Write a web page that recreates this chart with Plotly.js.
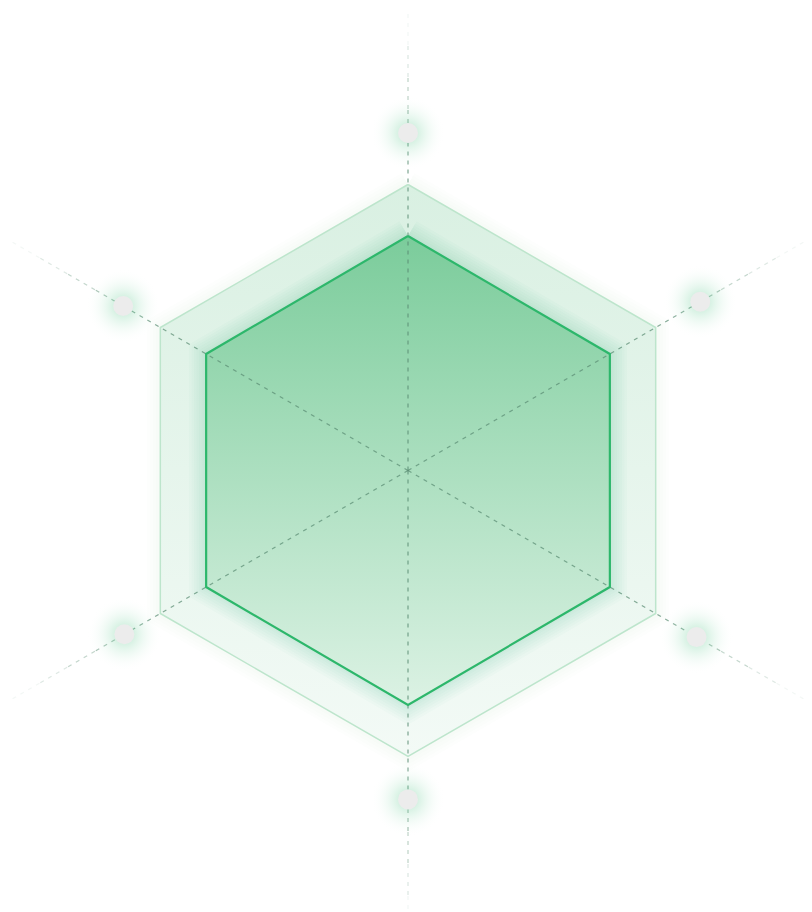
<!DOCTYPE html>
<html>
<head>
<meta charset="utf-8">
<script src="https://cdn.plot.ly/plotly-3.0.1.min.js"></script>
<style>
  html, body { margin: 0; padding: 0; background: #fff; }
  #chart { width: 812px; height: 912px; }
</style>
</head>
<body>
<div id="chart"></div>
<script>
// Six radar spokes, clockwise from the top (degrees, counter-clockwise from +x).
const spokeAngles = [90, 30, -30, -90, -150, 150];
const maxValues = [100, 100, 100, 100, 100, 100];        // outer boundary
const seriesValues = [82, 81.5, 81.5, 82, 81.5, 81.5];  // the filled series
const labelValues = [118, 118, 116.5, 115, 114.5, 115]; // empty label chips
const spokeLength = 160;

// canvas geometry: where the radar centre sits and how many px one unit is
const W = 812, H = 912, PX_PER_UNIT = 2.86, CX = 408, CY = 470.5;

const rad = a => a * Math.PI / 180;
const polarX = (v, i) => v * Math.cos(rad(spokeAngles[i]));
const polarY = (v, i) => v * Math.sin(rad(spokeAngles[i]));
const ring = vals => {
    const x = vals.map(polarX), y = vals.map(polarY);
    return { x: x.concat(x[0]), y: y.concat(y[0]) };
};

const outer = ring(maxValues);
const inner = ring(seriesValues);
const skip = { hoverinfo: 'skip', showlegend: false };

// soft shadow round a ring: many wide, faint strokes under the fill
const glow = (pts, widths, alpha) => widths.map(w => Object.assign({
    x: pts.x, y: pts.y, mode: 'lines',
    line: { color: `rgba(46,183,107,${alpha})`, width: w },
}, skip));

// spokes fade out towards their ends: [from, to, opacity] as fractions of spokeLength
const spokeFade = [[0, 0.72, 1], [0.72, 0.79, 0.75], [0.79, 0.86, 0.5], [0.86, 0.93, 0.28], [0.93, 1, 0.1]];
const spokes = spokeFade.map(([f0, f1, a]) => {
    const x = [], y = [];
    spokeAngles.forEach((_, i) => {
        x.push(polarX(f0 * spokeLength, i), polarX(f1 * spokeLength, i), null);
        y.push(polarY(f0 * spokeLength, i), polarY(f1 * spokeLength, i), null);
    });
    return Object.assign({
        x, y, mode: 'lines',
        line: { color: `rgba(90,140,115,${0.72 * a})`, width: 1.3, dash: '4px,5px' },
    }, skip);
});

const labelX = labelValues.map(polarX), labelY = labelValues.map(polarY);

const traces = [
    ...glow(outer, [26, 20, 14, 8], 0.012),
    Object.assign({
        x: outer.x, y: outer.y, mode: 'lines', fill: 'toself',
        fillgradient: { type: 'vertical', colorscale: [[0, '#f3faf6'], [1, '#d9f0e2']] },
        line: { color: '#bde5cc', width: 1.5 },
    }, skip),
    ...glow(inner, [34, 29, 24, 19, 14, 9, 5], 0.022),
    Object.assign({
        x: inner.x, y: inner.y, mode: 'lines', fill: 'toself',
        fillgradient: { type: 'vertical', colorscale: [[0, '#dcf2e4'], [1, '#7bcc9b']] },
        line: { width: 0, color: 'rgba(0,0,0,0)' },
    }, skip),
    ...spokes,
    Object.assign({
        x: inner.x, y: inner.y, mode: 'lines',
        line: { color: '#2db76b', width: 2.2 },
    }, skip),
    // green halo behind each label chip
    Object.assign({
        x: labelX, y: labelY, mode: 'markers',
        marker: { size: 74, color: 'rgba(255,255,255,0)', line: { width: 0 },
                  gradient: { type: 'radial', color: 'rgba(60,190,120,0.38)' } },
    }, skip),
    Object.assign({
        x: labelX, y: labelY, mode: 'markers',
        marker: { size: 20, color: '#ececec', line: { width: 0 } },
    }, skip),
];

const layout = {
    width: W, height: H,
    margin: { l: 0, r: 0, t: 0, b: 0 },
    paper_bgcolor: '#ffffff', plot_bgcolor: '#ffffff',
    showlegend: false,
    xaxis: { visible: false, fixedrange: true,
             range: [-CX / PX_PER_UNIT, (W - CX) / PX_PER_UNIT] },
    yaxis: { visible: false, fixedrange: true,
             range: [-(H - CY) / PX_PER_UNIT, CY / PX_PER_UNIT] },
};

Plotly.newPlot('chart', traces, layout, { staticPlot: true, displayModeBar: false });
</script>
</body>
</html>
